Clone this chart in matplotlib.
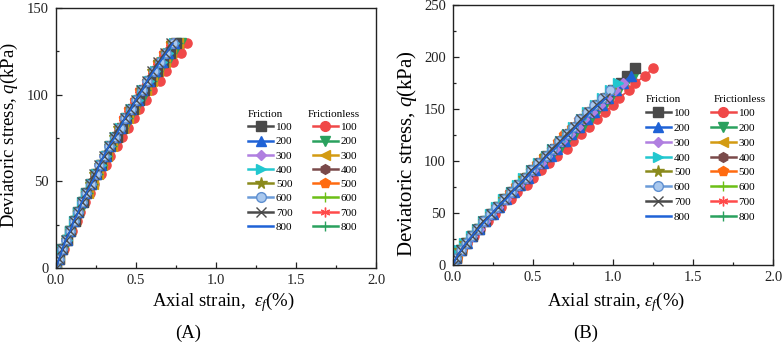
import matplotlib
matplotlib.use("Agg")
import matplotlib.pyplot as plt
from matplotlib.ticker import MultipleLocator

plt.rcParams['font.family'] = ['Liberation Serif', 'DejaVu Serif']
plt.rcParams['mathtext.fontset'] = 'custom'
plt.rcParams['mathtext.rm'] = 'Liberation Serif'
plt.rcParams['mathtext.it'] = 'Liberation Serif:italic'

pressures = ['100', '200', '300', '400', '500', '600', '700', '800']

# ---------------- Panel A data ----------------
qA = [0, 5.4, 10.8, 16.2, 21.6, 27.0, 32.4, 37.8, 43.2, 48.6, 54.0, 59.4, 64.8,
      70.2, 75.6, 81.0, 86.4, 91.8, 97.2, 102.6, 108.0, 113.4, 118.8, 124.2, 129.6]

A_fric_100 = [0, .02, .04, .07, .09, .12, .14, .17, .19, .22, .25, .28, .31, .34, .38, .41, .44, .48, .52, .55, .59, .63, .67, .71, .75]
A_fric_200 = [0, .02, .04, .07, .09, .11, .14, .16, .19, .22, .25, .28, .31, .34, .37, .40, .44, .47, .51, .54, .58, .62, .66, .70, .74]
A_fric_300 = [0, .02, .04, .06, .09, .11, .14, .16, .19, .22, .25, .27, .30, .33, .37, .40, .43, .47, .50, .54, .57, .61, .65, .69, .73]
A_fric_400 = [0, .02, .04, .07, .09, .11, .14, .16, .19, .22, .25, .28, .31, .34, .37, .40, .44, .47, .51, .54, .58, .62, .66, .70, .74]
A_fric_500 = [0, .02, .04, .06, .09, .11, .14, .16, .19, .21, .24, .27, .30, .33, .36, .39, .43, .46, .50, .53, .57, .60, .64, .68, .72]
A_fric_600 = [0, .02, .04, .06, .09, .11, .14, .16, .19, .22, .25, .27, .30, .33, .37, .40, .43, .47, .50, .54, .57, .61, .65, .69, .73]
A_fric_700 = [0, .02, .04, .06, .09, .11, .14, .16, .19, .21, .24, .27, .30, .33, .36, .39, .43, .46, .50, .53, .57, .60, .64, .68, .72]
A_fric_800 = [0, .02, .04, .06, .09, .11, .14, .16, .19, .22, .25, .27, .30, .33, .37, .40, .43, .47, .50, .54, .57, .61, .65, .69, .73]

A_nofr_100 = [0, .02, .05, .07, .10, .13, .15, .18, .21, .24, .28, .31, .34, .38, .41, .45, .49, .52, .56, .60, .65, .69, .73, .78, .82]
A_nofr_200 = [0, .02, .05, .07, .09, .12, .15, .17, .20, .23, .26, .29, .32, .36, .39, .43, .46, .50, .54, .57, .61, .65, .70, .74, .78]
A_nofr_300 = [0, .02, .04, .07, .09, .12, .14, .17, .20, .23, .26, .29, .32, .35, .38, .42, .45, .49, .52, .56, .60, .64, .68, .72, .76]
A_nofr_400 = [0, .02, .04, .07, .09, .11, .14, .16, .19, .22, .25, .28, .31, .34, .37, .40, .44, .47, .51, .54, .58, .62, .66, .70, .74]
A_nofr_500 = [0, .02, .04, .06, .09, .11, .13, .16, .18, .21, .24, .27, .30, .33, .36, .39, .42, .45, .49, .52, .56, .60, .63, .67, .71]
A_nofr_600 = [0, .02, .04, .07, .09, .12, .14, .17, .19, .22, .25, .28, .31, .34, .38, .41, .44, .48, .52, .55, .59, .63, .67, .71, .75]
A_nofr_700 = [0, .02, .04, .06, .09, .11, .13, .16, .18, .21, .24, .27, .30, .33, .36, .39, .42, .45, .49, .52, .56, .60, .63, .67, .71]
A_nofr_800 = [0, .02, .04, .07, .09, .12, .14, .17, .20, .23, .26, .29, .32, .35, .38, .42, .45, .49, .52, .56, .60, .64, .68, .72, .76]

# ---------------- Panel B data ----------------
qB = [0, 7, 14, 21, 28, 35, 42, 49, 56, 63, 70, 77, 84, 91, 98, 105, 112, 119,
      126, 133, 140, 147, 154, 161, 168, 175, 182, 189]

B_fric_100 = [0, .02, .05, .08, .12, .16, .20, .24, .28, .32, .37, .41, .46, .50, .55, .59, .64, .69, .73, .78, .82, .87, .91, .96, 1.00, 1.05, 1.09, 1.14]
B_fric_200 = [0, .02, .05, .09, .12, .16, .20, .25, .29, .33, .38, .42, .47, .51, .56, .61, .65, .70, .74, .79, .84, .88, .93, .97, 1.02, 1.06, 1.11]
B_fric_300 = [0, .02, .05, .08, .12, .16, .20, .24, .28, .33, .37, .41, .46, .50, .55, .59, .64, .68, .73, .78, .82, .87, .92, .96, 1.01, 1.06]
B_fric_400 = [0, .02, .04, .07, .11, .15, .19, .23, .27, .31, .36, .40, .44, .49, .53, .58, .62, .67, .71, .75, .80, .84, .89, .93, .98, 1.03]
B_fric_500 = [0, .02, .04, .07, .11, .15, .19, .23, .27, .31, .36, .40, .44, .49, .53, .57, .62, .66, .71, .75, .80, .84, .89, .94, .99]
B_fric_600 = [0, .02, .05, .08, .11, .15, .19, .23, .27, .32, .36, .40, .45, .49, .53, .58, .62, .66, .71, .75, .79, .84, .88, .93, .98]
B_fric_700 = [0, .02, .05, .08, .12, .15, .19, .24, .28, .32, .36, .41, .45, .49, .54, .58, .62, .67, .71, .76, .80, .85, .90, .95]
B_fric_800 = [0, .02, .05, .08, .12, .16, .20, .24, .28, .33, .37, .41, .46, .50, .55, .59, .64, .68, .73, .77, .82, .86, .91, .96]

B_nofr_100 = [0, .02, .05, .09, .13, .17, .22, .26, .30, .36, .40, .46, .50, .55, .60, .65, .71, .75, .80, .85, .90, .95, 1.00, 1.04, 1.10, 1.14, 1.20, 1.25]
B_nofr_200 = [0, .02, .05, .09, .12, .16, .21, .25, .29, .34, .38, .43, .47, .52, .57, .62, .67, .71, .76, .81, .86, .90, .95, .99, 1.04, 1.08, 1.13]
B_nofr_300 = [0, .02, .04, .07, .11, .15, .19, .23, .27, .32, .36, .41, .45, .49, .54, .58, .63, .67, .72, .76, .81, .85, .90, .95, 1.01]
B_nofr_400 = [0, .02, .05, .08, .12, .16, .20, .24, .28, .33, .37, .41, .46, .50, .54, .59, .63, .68, .72, .77, .81, .86, .91, .96]
B_nofr_500 = [0, .03, .06, .09, .12, .16, .19, .23, .27, .31, .35, .39, .44, .48, .52, .56, .61, .65, .69, .74, .78, .83, .88, .93]
B_nofr_600 = [0, .02, .05, .08, .12, .15, .19, .23, .27, .32, .36, .40, .45, .49, .53, .58, .62, .66, .71, .75, .80, .85, .91]
B_nofr_700 = [0, .02, .05, .08, .11, .15, .19, .23, .27, .31, .35, .40, .44, .48, .53, .57, .61, .66, .70, .75, .79, .84, .90]
B_nofr_800 = [0, .02, .05, .08, .12, .16, .20, .24, .28, .32, .37, .41, .45, .50, .54, .59, .63, .68, .72, .77, .82, .87, .92]

# ---------------- Styles ----------------
fric_styles = [
    dict(color='#4a4a4a', marker='s', mfc='#4a4a4a', mec='#4a4a4a'),
    dict(color='#1f62d6', marker='^', mfc='#1f62d6', mec='#1f62d6'),
    dict(color='#b07fe0', marker='D', mfc='#b07fe0', mec='#b07fe0', ms_scale=0.8),
    dict(color='#22c7cf', marker='>', mfc='#22c7cf', mec='#22c7cf'),
    dict(color='#8a8a1c', marker='*', mfc='#8a8a1c', mec='#8a8a1c', ms_scale=1.2),
    dict(color='#6a9bd8', marker='o', mfc='#a9c8ee', mec='#5e8fd0'),
    dict(color='#4a4a4a', marker='x', mfc='#4a4a4a', mec='#4a4a4a'),
    dict(color='#1f62d6', marker='None', mfc='#1f62d6', mec='#1f62d6'),
]
nofr_styles = [
    dict(color='#f04848', marker='o', mfc='#f04848', mec='#f04848'),
    dict(color='#2aa15e', marker='v', mfc='#2aa15e', mec='#2aa15e'),
    dict(color='#d39b12', marker='<', mfc='#d39b12', mec='#d39b12'),
    dict(color='#7a4a4a', marker='h', mfc='#7a4a4a', mec='#7a4a4a'),
    dict(color='#ff6a10', marker='p', mfc='#ff6a10', mec='#ff6a10'),
    dict(color='#6cbf16', marker='+', mfc='#6cbf16', mec='#6cbf16'),
    dict(color='#ff4a4a', marker=(6, 2, 0), mfc='#ff4a4a', mec='#ff4a4a'),
    dict(color='#2aa15e', marker='+', mfc='#2aa15e', mec='#2aa15e'),
]

MS = 6.6


def draw_series(ax, q, strain, st, ms, lw=1.2):
    s = dict(st)
    scale = s.pop('ms_scale', 1.0)
    ax.plot(strain, q[:len(strain)], color=s['color'], marker=s['marker'],
            markerfacecolor=s['mfc'], markeredgecolor=s['mec'],
            markersize=ms * scale, lw=lw, markeredgewidth=1.0)


def legend_handle(ax, st, label):
    s = dict(st)
    scale = s.pop('ms_scale', 1.0)
    h, = ax.plot([], [], color=s['color'], marker=s['marker'],
                 markerfacecolor=s['mfc'], markeredgecolor=s['mec'],
                 markersize=7 * scale, lw=1.8, markeredgewidth=1.0, label=label)
    return h


def setup_axes(ax, ymax):
    ax.set_xlim(0, 2.0)
    ax.set_ylim(0, ymax)
    ax.xaxis.set_major_locator(MultipleLocator(0.5))
    ax.xaxis.set_minor_locator(MultipleLocator(0.25))
    ax.yaxis.set_major_locator(MultipleLocator(50))
    ax.yaxis.set_minor_locator(MultipleLocator(25))
    ax.xaxis.set_major_formatter(plt.FuncFormatter(lambda v, p: f"{v:.1f}"))
    ax.yaxis.set_major_formatter(plt.FuncFormatter(lambda v, p: f"{v:.0f}"))
    ax.tick_params(which='both', direction='in', top=False, right=False,
                   labelsize=10.5, width=0.9, colors='#222222')
    ax.tick_params(which='major', length=4)
    ax.tick_params(which='minor', length=2.5)
    ax.tick_params(axis='x', pad=4)
    ax.tick_params(axis='y', pad=5)
    for sp in ax.spines.values():
        sp.set_linewidth(1.0)
        sp.set_color('#222222')


fig = plt.figure(figsize=(7.82, 3.43), dpi=100)
axA = fig.add_axes([56 / 782, 75 / 343, 320 / 782, 260 / 343])
axB = fig.add_axes([453 / 782, 78 / 343, 320 / 782, 260 / 343])

A_fric = [A_fric_100, A_fric_200, A_fric_300, A_fric_400, A_fric_500, A_fric_600, A_fric_700, A_fric_800]
A_nofr = [A_nofr_100, A_nofr_200, A_nofr_300, A_nofr_400, A_nofr_500, A_nofr_600, A_nofr_700, A_nofr_800]
B_fric = [B_fric_100, B_fric_200, B_fric_300, B_fric_400, B_fric_500, B_fric_600, B_fric_700, B_fric_800]
B_nofr = [B_nofr_100, B_nofr_200, B_nofr_300, B_nofr_400, B_nofr_500, B_nofr_600, B_nofr_700, B_nofr_800]

leg_handles = {}
for ax, q, fr, nf, ymax in [(axA, qA, A_fric, A_nofr, 150), (axB, qB, B_fric, B_nofr, 250)]:
    setup_axes(ax, ymax)
    for s, st in zip(nf, nofr_styles):
        draw_series(ax, q, s, st, MS)
    for s, st in zip(fr, fric_styles):
        draw_series(ax, q, s, st, MS)
    handles = [legend_handle(ax, st, p) for st, p in zip(fric_styles, pressures)]
    handles += [legend_handle(ax, st, p) for st, p in zip(nofr_styles, pressures)]
    leg_handles[ax] = handles

legend_kw = dict(ncol=2, frameon=False, fontsize=8, handlelength=2.25, handletextpad=0.27,
                 columnspacing=1.8, borderpad=0, borderaxespad=0, loc='upper left')
axA.legend(handles=leg_handles[axA], bbox_to_anchor=(0.600, 0.560), labelspacing=0.4, **legend_kw)
axB.legend(handles=leg_handles[axB], bbox_to_anchor=(0.603, 0.602), labelspacing=0.45, **legend_kw)

axA.text(0.600, 0.592, 'Friction', transform=axA.transAxes, fontsize=8, va='center', ha='left')
axA.text(0.788, 0.592, 'Frictionless', transform=axA.transAxes, fontsize=8, va='center', ha='left')
axB.text(0.603, 0.636, 'Friction', transform=axB.transAxes, fontsize=8, va='center', ha='left')
axB.text(0.816, 0.636, 'Frictionless', transform=axB.transAxes, fontsize=8, va='center', ha='left')

# axis labels
fig.text(9.5 / 782, 1 - 135 / 343, r'Deviatoric stress, $q$(kPa)', rotation=90,
         ha='center', va='center', fontsize=13.5)
fig.text(407 / 782, 1 - 154 / 343, r'Deviatoric stress, $q$(kPa)', rotation=90,
         ha='center', va='center', fontsize=15)
fig.text(223 / 782, 1 - 302 / 343, r'Axial strain,  $\varepsilon_f$(%)',
         ha='center', va='center', fontsize=13.5)
fig.text(616 / 782, 1 - 302 / 343, r'Axial strain, $\varepsilon_f$(%)',
         ha='center', va='center', fontsize=13.5)
fig.text(188 / 782, 1 - 333 / 343, '(A)', ha='center', va='center', fontsize=13.5)
fig.text(586 / 782, 1 - 333 / 343, '(B)', ha='center', va='center', fontsize=13.5)

fig.savefig('out.png', dpi=100)
